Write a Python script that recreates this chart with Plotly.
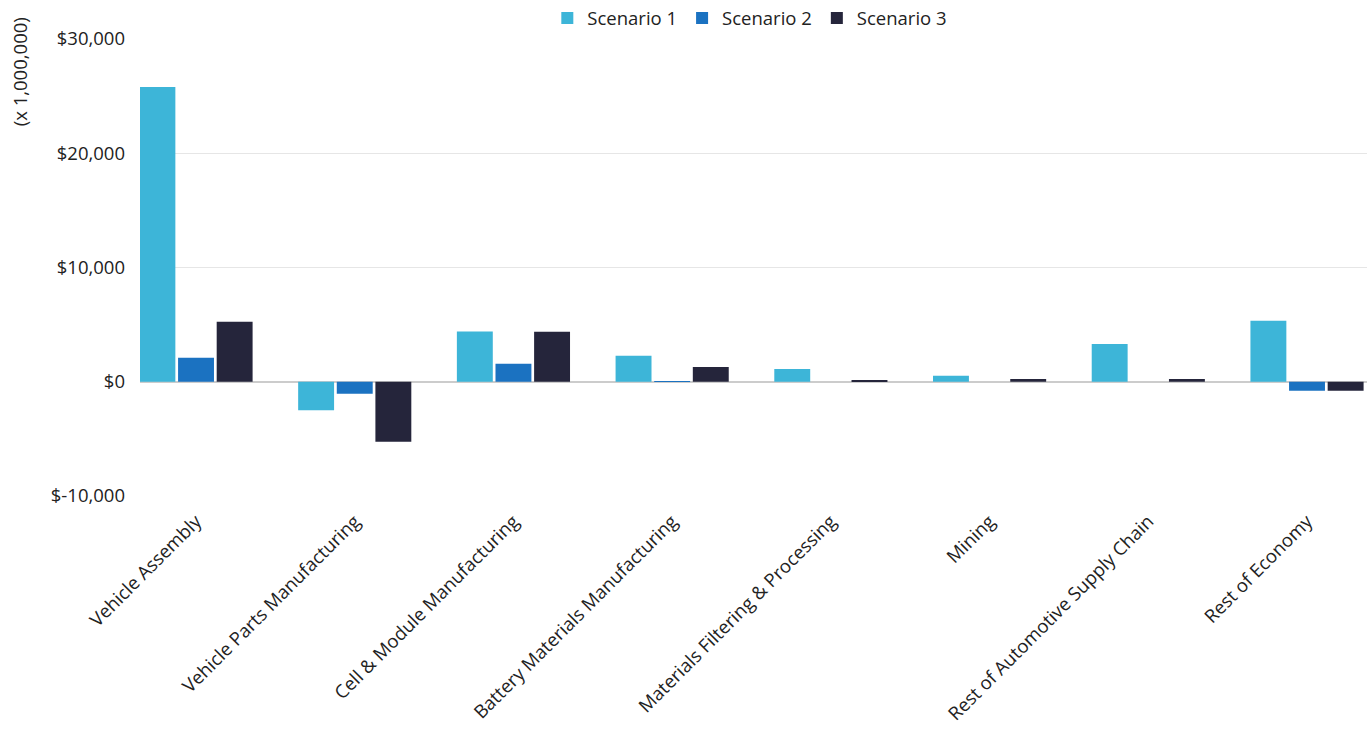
import plotly.graph_objects as go

categories = ["Vehicle Assembly", "Vehicle Parts Manufacturing", "Cell & Module Manufacturing",
              "Battery Materials Manufacturing", "Materials Filtering & Processing", "Mining",
              "Rest of Automotive Supply Chain", "Rest of Economy"]
scenario1 = [25800, -2500, 4400, 2280, 1110, 530, 3300, 5350]
scenario2 = [2100, -1050, 1580, 30, 0, 0, 0, -790]
scenario3 = [5250, -5250, 4380, 1290, 150, 250, 250, -790]
series_names = ["Scenario 1", "Scenario 2", "Scenario 3"]
colors = ["#3db5d8", "#1b72c1", "#25253b"]
tick_vals = [-10000, 0, 10000, 20000, 30000]
tick_text = ["$-10,000", "$0", "$10,000", "$20,000", "$30,000"]

fig = go.Figure()
for name, vals, c in zip(series_names, [scenario1, scenario2, scenario3], colors):
    fig.add_trace(go.Bar(x=categories, y=vals, name=name, marker_color=c, marker_line_width=0))

font = "Open Sans, Liberation Sans, sans-serif"
fs = 18.5
fig.update_layout(
    width=1367, height=737,
    margin=dict(l=140, r=0, t=39, b=241, autoexpand=False),
    paper_bgcolor="white", plot_bgcolor="white",
    barmode="group", bargap=0.27, bargroupgap=0.07,
    font=dict(family=font, size=fs, color="#222222"),
    legend=dict(orientation="h", x=0.497, xanchor="center", yref="container", y=0.975, yanchor="middle",
                font=dict(size=fs, color="#222222"), itemwidth=30, traceorder="normal"),
    xaxis=dict(tickangle=-45, showgrid=False, showline=False, ticks="", automargin=False,
               range=[-0.353, 7.378], ticklabelstandoff=10,
               tickfont=dict(size=fs, color="#222222")),
    yaxis=dict(range=[-10000, 30000], tickvals=tick_vals, ticktext=tick_text, automargin=False,
               showgrid=True, gridcolor="#e6e6e6", gridwidth=1,
               zeroline=True, zerolinecolor="#cccccc", zerolinewidth=1.5,
               showline=False, ticks="", ticklabelstandoff=14,
               tickfont=dict(size=fs, color="#222222")),
)
fig.add_annotation(text="(x 1,000,000)", xref="paper", yref="paper", x=-0.0975, y=0.928,
                   xanchor="center", yanchor="middle", textangle=-90, showarrow=False,
                   font=dict(size=fs, color="#222222", family=font))
fig.write_html("out.html")
